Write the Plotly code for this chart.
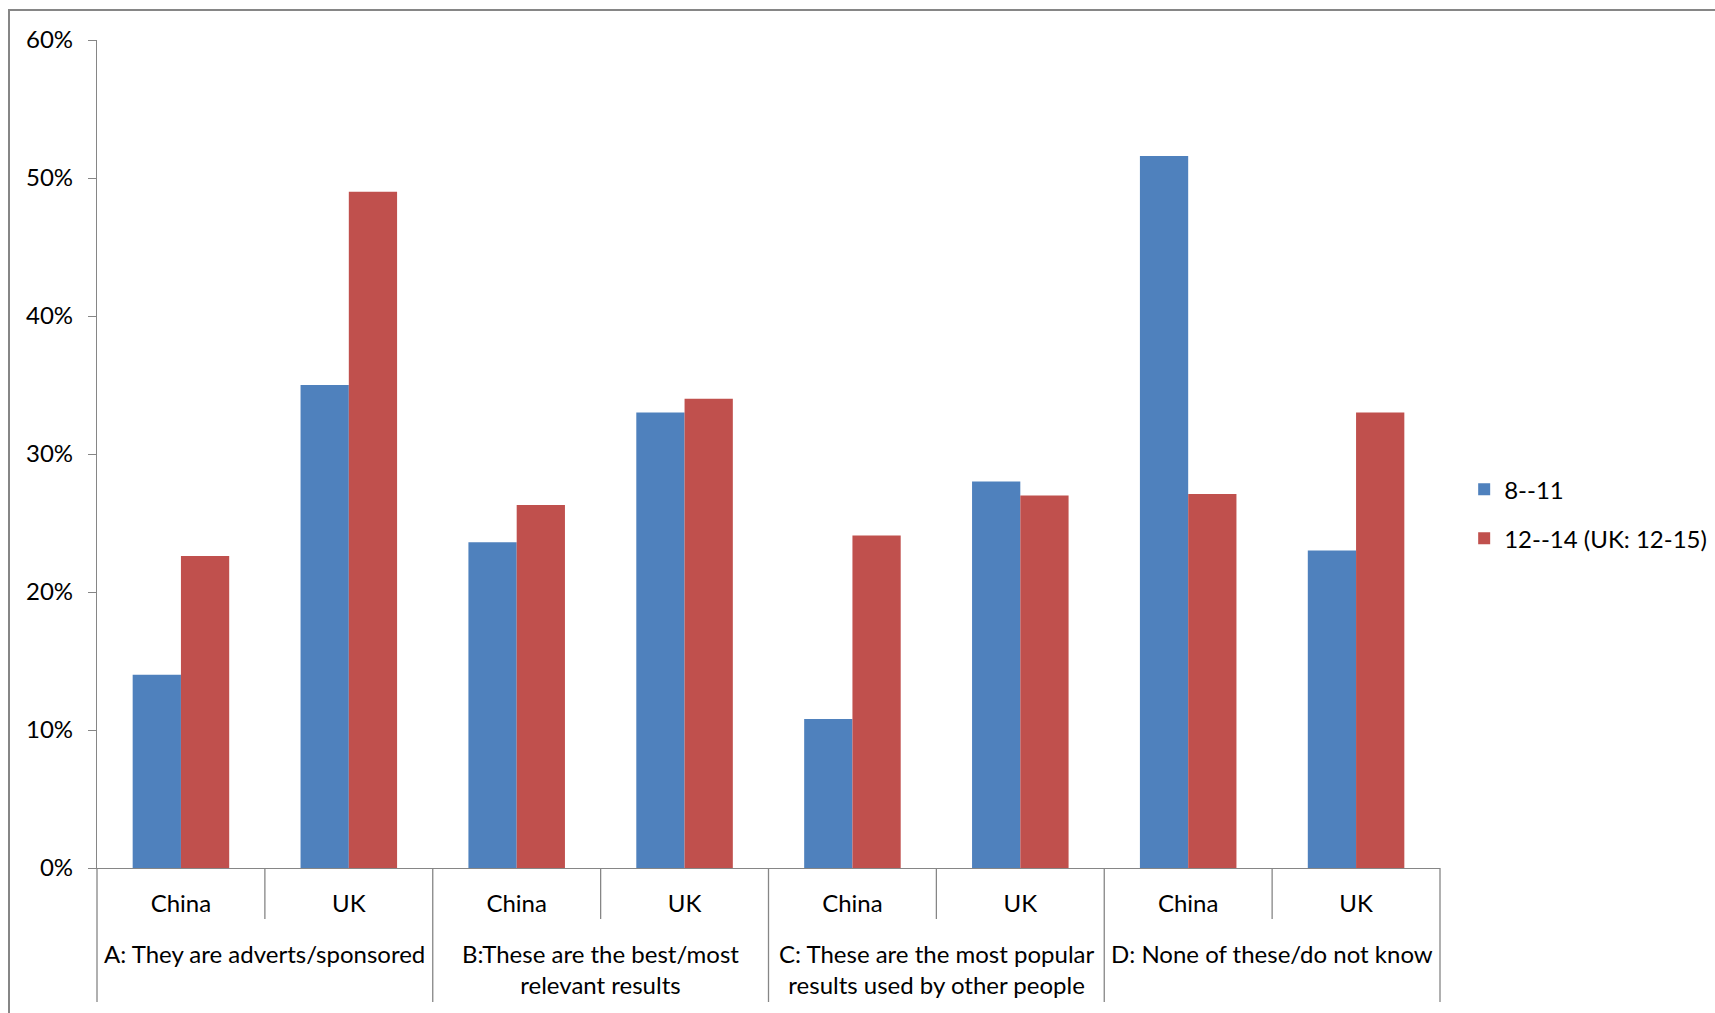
import plotly.graph_objects as go

# Survey answers: why do some search results appear at the top?
groups = [
    "A: They are adverts/sponsored",
    "B:These are the best/most<br>relevant results",
    "C: These are the most popular<br>results used by other people",
    "D: None of these/do not know",
]
countries = ["China", "UK"]
series_names = ["8--11", "12--14 (UK: 12-15)"]

# Share of respondents, ordered A-China, A-UK, B-China, B-UK, ...
age_8_11 = [0.140, 0.350, 0.236, 0.330, 0.108, 0.280, 0.516, 0.230]
age_12_14 = [0.226, 0.490, 0.263, 0.340, 0.241, 0.270, 0.271, 0.330]

y_ticks = [0, 0.1, 0.2, 0.3, 0.4, 0.5, 0.6]

colors = ["#4F81BD", "#C0504D"]
axis_grey = "#868686"
font_family = "Lato, 'Open Sans', sans-serif"
font_size = 24

W, H = 1715, 1013
m_l, m_r, m_t, m_b = 97, 275, 40, 145
plot_w = W - m_l - m_r
plot_h = H - m_t - m_b

n_cat = len(groups) * len(countries)
positions = list(range(n_cat))
tick_text = [c for _ in groups for c in countries]

fig = go.Figure()
for name, vals, col in zip(series_names, [age_8_11, age_12_14], colors):
    fig.add_trace(go.Bar(
        x=positions, y=vals, name=name, legendgroup=name,
        marker=dict(color=col, line=dict(width=0)),
    ))


def py(px_below_axis):
    """Paper y for a point given pixels below the x axis."""
    return -px_below_axis / plot_h


shapes = []
# category dividers under the axis: short ones between countries,
# long ones between question groups
for k in range(n_cat + 1):
    xb = k - 0.5
    long_line = (k % 2 == 0)
    depth = 134 if long_line else 51
    if k == 0 or k == n_cat:
        xr, xv = "paper", (0 if k == 0 else 1)
    else:
        xr, xv = "x", xb
    shapes.append(dict(
        type="line", xref=xr, yref="paper",
        x0=xv, x1=xv, y0=0, y1=py(depth),
        line=dict(color=axis_grey, width=1.3),
    ))

# outer chart-area border
shapes.append(dict(
    type="rect", xref="paper", yref="paper",
    x0=(9 - m_l) / plot_w, x1=1.5,
    y0=-0.5, y1=1 + (m_t - 10) / plot_h,
    line=dict(color=axis_grey, width=2), fillcolor="rgba(0,0,0,0)",
    layer="below",
))

annotations = []
for gi, g in enumerate(groups):
    annotations.append(dict(
        text=g, xref="x", yref="paper",
        x=gi * 2 + 0.5, y=0, yanchor="top", xanchor="center",
        yshift=-69, showarrow=False, align="center",
        font=dict(family=font_family, size=font_size, color="#000000"),
    ))

fig.update_layout(
    width=W, height=H,
    margin=dict(l=m_l, r=m_r, t=m_t, b=m_b, autoexpand=False),
    paper_bgcolor="white", plot_bgcolor="white",
    font=dict(family=font_family, size=font_size, color="#000000"),
    barmode="group", bargap=0.425, bargroupgap=0,
    showlegend=True,
    legend=dict(
        x=1.018, y=0.4275, xanchor="left", yanchor="middle",
        font=dict(family=font_family, size=font_size, color="#000000"),
        tracegroupgap=15, bgcolor="rgba(0,0,0,0)",
    ),
    xaxis=dict(
        range=[-0.5, n_cat - 0.5],
        tickmode="array", tickvals=positions, ticktext=tick_text,
        ticks="", showline=True, linecolor=axis_grey, linewidth=1.3,
        showgrid=False, zeroline=False, ticklabelstandoff=14,
        tickfont=dict(family=font_family, size=font_size, color="#000000"),
    ),
    yaxis=dict(
        range=[0, 0.6], tickmode="array", tickvals=y_ticks,
        tickformat=".0%", ticks="outside", ticklen=8, tickcolor=axis_grey,
        tickwidth=1.3, showline=True, linecolor=axis_grey, linewidth=1.3,
        showgrid=False, zeroline=False, ticklabelstandoff=10,
        tickfont=dict(family=font_family, size=font_size, color="#000000"),
    ),
    shapes=shapes,
    annotations=annotations,
)

fig.write_html("out.html")
